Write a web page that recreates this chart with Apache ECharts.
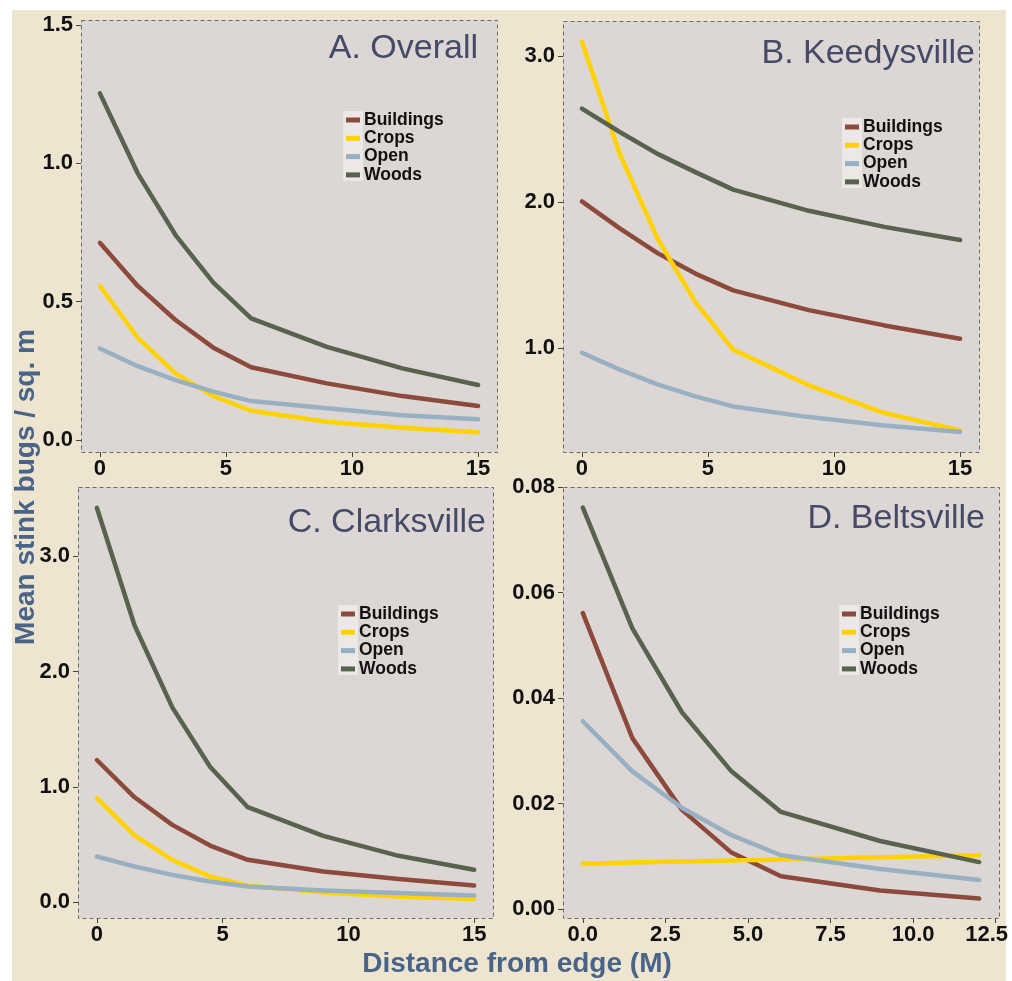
<!DOCTYPE html>
<html>
<head>
<meta charset="utf-8">
<script src="https://cdn.jsdelivr.net/npm/echarts@6/dist/echarts.min.js"></script>
<style>
  html, body { margin: 0; padding: 0; background: #ffffff; }
  #wrap { position: relative; width: 1012px; height: 981px; overflow: hidden; }
  #bg { position: absolute; left: 12px; top: 10px; right: 6px; bottom: 0; background: #eee5d0; }
  #chart { position: absolute; left: 0; top: 0; width: 1012px; height: 981px; }
</style>
</head>
<body>
<div id="wrap"><div id="bg"></div><div id="chart"></div></div>
<script>
// ---- data ----
const SERIES_NAMES = ['Buildings', 'Crops', 'Open', 'Woods'];
const DIST = [0, 1.5, 3, 4.5, 6, 9, 12, 15];
const DIST_D = [0, 1.5, 3, 4.5, 6, 9, 12];

const A_BUILDINGS = [0.713, 0.557, 0.434, 0.334, 0.263, 0.205, 0.159, 0.123];
const A_CROPS     = [0.557, 0.370, 0.241, 0.159, 0.106, 0.066, 0.045, 0.028];
const A_OPEN      = [0.331, 0.267, 0.217, 0.175, 0.141, 0.115, 0.090, 0.075];
const A_WOODS     = [1.253, 0.964, 0.741, 0.569, 0.440, 0.337, 0.259, 0.199];

const B_BUILDINGS = [2.005, 1.82, 1.65, 1.51, 1.395, 1.26, 1.155, 1.064];
const B_CROPS     = [3.10, 2.33, 1.75, 1.315, 0.989, 0.745, 0.555, 0.436];
const B_OPEN      = [0.968, 0.852, 0.751, 0.669, 0.60, 0.527, 0.47, 0.425];
const B_WOODS     = [2.64, 2.48, 2.33, 2.205, 2.085, 1.94, 1.83, 1.74];

const C_BUILDINGS = [1.234, 0.911, 0.672, 0.493, 0.369, 0.268, 0.202, 0.147];
const C_CROPS     = [0.903, 0.58, 0.369, 0.225, 0.144, 0.087, 0.052, 0.029];
const C_OPEN      = [0.398, 0.311, 0.239, 0.182, 0.138, 0.104, 0.081, 0.061];
const C_WOODS     = [3.42, 2.40, 1.69, 1.176, 0.825, 0.577, 0.404, 0.283];

const D_BUILDINGS = [0.0561, 0.0324, 0.0188, 0.0107, 0.0062, 0.0035, 0.0020];
const D_CROPS     = [0.0086, 0.0088, 0.0090, 0.0092, 0.0094, 0.0098, 0.0102];
const D_OPEN      = [0.0356, 0.0261, 0.0192, 0.0140, 0.0102, 0.0076, 0.0055];
const D_WOODS     = [0.0761, 0.0532, 0.0373, 0.0261, 0.0184, 0.0129, 0.0089];

const X_TICKS = [0, 5, 10, 15];
const X_TICKS_D = [0, 2.5, 5, 7.5, 10, 12.5];
const A_Y_TICKS = [0, 0.5, 1.0, 1.5];
const B_Y_TICKS = [1.0, 2.0, 3.0];
const C_Y_TICKS = [0, 1.0, 2.0, 3.0];
const D_Y_TICKS = [0, 0.02, 0.04, 0.06, 0.08];

const TITLES = ['A. Overall', 'B. Keedysville', 'C. Clarksville', 'D. Beltsville'];
const Y_TITLE = 'Mean stink bugs / sq. m';
const X_TITLE = 'Distance from edge (M)';

// ---- style / layout ----
const COLORS = { Buildings: '#8c4a3d', Crops: '#ffd200', Open: '#99b0c2', Woods: '#58634f' };
const FONT = 'Liberation Sans, Arial, Helvetica, sans-serif';
const GRIDS = [
  { left: 81, top: 20, width: 416, height: 432 },
  { left: 563, top: 21, width: 416, height: 431 },
  { left: 78, top: 487, width: 415, height: 431 },
  { left: 563, top: 487, width: 436, height: 431 }
];
const PANELS = [
  { data: [A_BUILDINGS, A_CROPS, A_OPEN, A_WOODS], x: DIST, xr: [-0.75, 15.75], xt: X_TICKS, xd: 0,
    yr: [-0.043, 1.518], yt: A_Y_TICKS, yd: 1, titleRight: 534, titleTop: 32, legend: [346, 111], shiftLast: false },
  { data: [B_BUILDINGS, B_CROPS, B_OPEN, B_WOODS], x: DIST, xr: [-0.75, 15.75], xt: X_TICKS, xd: 0,
    yr: [0.288, 3.24], yt: B_Y_TICKS, yd: 1, titleRight: 37, titleTop: 37, legend: [845, 118], shiftLast: false },
  { data: [C_BUILDINGS, C_CROPS, C_OPEN, C_WOODS], x: DIST, xr: [-0.75, 15.75], xt: X_TICKS, xd: 0,
    yr: [-0.135, 3.60], yt: C_Y_TICKS, yd: 1, titleRight: 526, titleTop: 506, legend: [341, 605], shiftLast: false },
  { data: [D_BUILDINGS, D_CROPS, D_OPEN, D_WOODS], x: DIST_D, xr: [-0.6, 12.6], xt: X_TICKS_D, xd: 1,
    yr: [-0.0017, 0.0800], yt: D_Y_TICKS, yd: 2, titleRight: 27, titleTop: 502, legend: [842, 605], shiftLast: true }
];

const LABEL_FONT = { color: '#111', fontSize: 22, fontWeight: 'bold', fontFamily: FONT };

const grid = [], xAxis = [], yAxis = [], series = [], title = [], legend = [], graphic = [];
PANELS.forEach((p, i) => {
  const g = GRIDS[i];
  grid.push(Object.assign({ show: true, backgroundColor: '#dcd6d4', borderWidth: 0,
    containLabel: false, outerBoundsMode: 'none' }, g));
  const tickStyle = { show: true, inside: false, length: 5, lineStyle: { color: '#444', width: 1 } };
  const hiddenLine = { show: true, onZero: false, lineStyle: { color: 'rgba(0,0,0,0)', width: 0 } };
  const lastX = p.xt[p.xt.length - 1];
  xAxis.push({
    type: 'value', gridIndex: i, min: p.xr[0], max: p.xr[1], position: 'bottom',
    axisLine: hiddenLine, splitLine: { show: false },
    axisTick: Object.assign({ customValues: p.xt }, tickStyle),
    axisLabel: Object.assign({ customValues: p.xt, margin: 6,
      formatter: v => (p.shiftLast && v === lastX) ? '{m|' + v.toFixed(p.xd) + '}' : v.toFixed(p.xd),
      rich: { m: Object.assign({ padding: [0, 18, 0, 0] }, LABEL_FONT) } }, LABEL_FONT)
  });
  yAxis.push({
    type: 'value', gridIndex: i, min: p.yr[0], max: p.yr[1], position: 'left',
    axisLine: hiddenLine, splitLine: { show: false },
    axisTick: Object.assign({ customValues: p.yt }, tickStyle),
    axisLabel: Object.assign({ customValues: p.yt, margin: 8, formatter: v => v.toFixed(p.yd) }, LABEL_FONT)
  });
  SERIES_NAMES.forEach((name, k) => {
    series.push({
      type: 'line', name: name, xAxisIndex: i, yAxisIndex: i,
      data: p.x.map((xv, j) => [xv, p.data[k][j]]),
      showSymbol: false, symbol: 'none', silent: true,
      lineStyle: { color: COLORS[name], width: 4.5, cap: 'round', join: 'round' },
      itemStyle: { color: COLORS[name] },
      z: 2
    });
  });
  title.push({
    text: TITLES[i], right: p.titleRight, top: p.titleTop, padding: 0,
    textStyle: { fontSize: 34, fontWeight: 'normal', color: '#454a66', fontFamily: FONT }
  });
  legend.push({
    data: SERIES_NAMES, orient: 'vertical', left: p.legend[0], top: p.legend[1], padding: 0, z: 20,
    itemGap: 0.3, itemWidth: 14, itemHeight: 5, icon: 'rect', selectedMode: false,
    textStyle: { fontSize: 17.5, fontWeight: 'bold', color: '#111', fontFamily: FONT, lineHeight: 17, padding: [0, 0, 0, -1] }
  });
  // legend key background
  graphic.push({
    type: 'rect', z: 1, silent: true,
    shape: { x: p.legend[0] - 3, y: p.legend[1], width: 20, height: 70 },
    style: { fill: '#ece8e6' }
  });
  // dashed panel border
  graphic.push({
    type: 'rect', z: 50, silent: true,
    shape: { x: g.left + 0.5, y: g.top + 0.5, width: g.width, height: g.height },
    style: { fill: 'none', stroke: '#6a6a6a', lineWidth: 1, lineDash: [4, 3] }
  });
});

graphic.push({
  type: 'text', x: 26, y: 487, rotation: Math.PI / 2, silent: true,
  style: { text: Y_TITLE, font: 'bold 28px ' + FONT, fill: '#4a6488',
    align: 'center', verticalAlign: 'middle', textAlign: 'center', textVerticalAlign: 'middle' }
});
graphic.push({
  type: 'text', x: 517, y: 964, silent: true,
  style: { text: X_TITLE, font: 'bold 28px ' + FONT, fill: '#4a6488',
    align: 'center', verticalAlign: 'middle', textAlign: 'center', textVerticalAlign: 'middle' }
});

const chart = echarts.init(document.getElementById('chart'), null, { renderer: 'canvas' });
chart.setOption({
  backgroundColor: 'transparent',
  animation: false,
  grid, xAxis, yAxis, series, title, legend, graphic
});
</script>
</body>
</html>
